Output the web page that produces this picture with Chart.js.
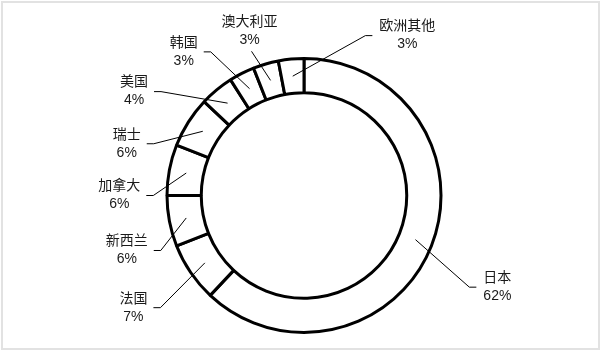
<!DOCTYPE html>
<html>
<head>
<meta charset="utf-8">
<script src="https://cdn.jsdelivr.net/npm/chart.js@4.4.1/dist/chart.umd.min.js"></script>
<style>
  html, body { margin: 0; padding: 0; background: #fff; }
  #wrap { position: relative; width: 600px; height: 351px; }
  #frame { position: absolute; left: 1px; top: 1px; width: 595px; height: 345px; border: 2px solid #e2e2e2; box-sizing: content-box; }
  #chartCanvas { position: absolute; left: 0; top: 0; }
</style>
</head>
<body>
<div id="wrap">
  <div id="frame"></div>
  <canvas id="chartCanvas" width="600" height="351"></canvas>
</div>
<script>
// data: share of visitors per country, clockwise from 12 o'clock
var countries = ['日本', '法国', '新西兰', '加拿大', '瑞士', '美国', '韩国', '澳大利亚', '欧洲其他']
var shares = [62, 7, 6, 6, 6, 4, 3, 3, 3]

// where each label's leader line ends: angle from top (deg, clockwise),
// distance as a multiple of the outer radius, and which side the text sits on
var labelAngle = [119, 232, 249, 270, 289, 306, 327, 340, 21]
var labelDist = [1.38, 1.33, 1.12, 1.10, 1.16, 1.29, 1.25, 1.12, 1.25]
var labelSide = ['right', 'left', 'left', 'left', 'left', 'left', 'left', 'top', 'right']

var fontFamily = '"Liberation Sans", Arial, "Noto Sans CJK SC", sans-serif'

// plugin that draws the outside labels with leader lines
var outsideLabels = {
    id: 'outsideLabels',
    afterDatasetsDraw(chart) {
        var ctx = chart.ctx
        var arcs = chart.getDatasetMeta(0).data
        var total = shares.reduce((a, b) => a + b, 0)
        ctx.save()
        ctx.font = '14px ' + fontFamily
        ctx.textBaseline = 'middle'
        ctx.textAlign = 'center'
        arcs.forEach((arc, i) => {
            var p = arc.getProps(['x', 'y', 'startAngle', 'endAngle', 'innerRadius', 'outerRadius'], true)
            var mid = (p.startAngle + p.endAngle) / 2
            var midR = (p.innerRadius + p.outerRadius) / 2
            var sx = p.x + Math.cos(mid) * midR
            var sy = p.y + Math.sin(mid) * midR
            var a = labelAngle[i] * Math.PI / 180
            var ex = p.x + Math.sin(a) * p.outerRadius * labelDist[i]
            var ey = p.y - Math.cos(a) * p.outerRadius * labelDist[i]

            var name = countries[i]
            var pct = Math.round(shares[i] / total * 100) + '%'
            var w = Math.max(ctx.measureText(name).width, ctx.measureText(pct).width)

            ctx.strokeStyle = '#000'
            ctx.lineWidth = 1
            ctx.beginPath()
            ctx.moveTo(sx, sy)
            ctx.lineTo(ex, ey)
            var tx, ty
            if (labelSide[i] == 'left') {
                ctx.lineTo(ex - 7, ey)
                tx = ex - 7 - 6 - w / 2
                ty = ey
            } else if (labelSide[i] == 'right') {
                ctx.lineTo(ex + 7, ey)
                tx = ex + 7 + 7 + w / 2
                ty = ey
            } else {
                tx = ex - 2
                ty = ey - 20
            }
            ctx.stroke()

            ctx.fillStyle = '#1a1a1a'
            ctx.fillText(name, tx, ty - 9)
            ctx.fillText(pct, tx, ty + 9)
        })
        ctx.restore()
    }
}

const canvasChart = document.getElementById('chartCanvas')
var myChart = new Chart(canvasChart, {
    type: 'doughnut',
    data: {
        labels: countries,
        datasets: [{
            data: shares,
            backgroundColor: '#ffffff',
            borderColor: '#000000',
            borderWidth: 3,
            hoverOffset: 0
        }]
    },
    options: {
        responsive: false,
        animation: false,
        cutout: '75%',
        layout: { padding: { top: 57, bottom: 17, left: 100, right: 92 } },
        plugins: {
            legend: { display: false },
            tooltip: { enabled: false }
        }
    },
    plugins: [outsideLabels]
})
</script>
</body>
</html>
